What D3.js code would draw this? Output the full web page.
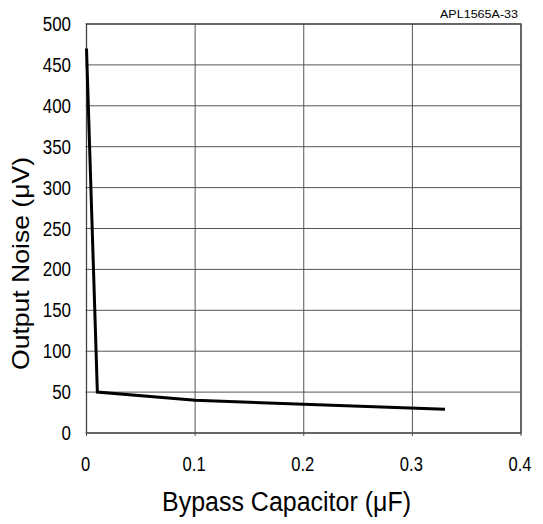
<!DOCTYPE html>
<html>
<head>
<meta charset="utf-8">
<script src="https://cdn.jsdelivr.net/npm/d3@7"></script>
<style>
  body { margin: 0; background: #fff; }
  text { font-family: "Liberation Sans", Arial, sans-serif; fill: #000; }
</style>
</head>
<body>
<svg id="chart" width="543" height="524"></svg>
<script>
// curve data
const capValues = [0, 0.01, 0.1, 0.33];
const noiseValues = [470, 50, 40, 29];
const xTicks = [0, 0.1, 0.2, 0.3, 0.4];
const yTicks = [0, 50, 100, 150, 200, 250, 300, 350, 400, 450, 500];

const margin = { top: 24, right: 22, bottom: 91, left: 86.5 };
const width = 543, height = 524;

const svg = d3.select("#chart");

const x = d3.scaleLinear().domain([0, 0.4]).range([margin.left, width - margin.right]);
const y = d3.scaleLinear().domain([0, 500]).range([height - margin.bottom, margin.top]);

// grid
svg.append("g")
  .selectAll("line")
  .data(xTicks)
  .enter().append("line")
  .attr("x1", d => x(d)).attr("x2", d => x(d))
  .attr("y1", y(500)).attr("y2", y(0) + 3)
  .attr("stroke", "#555").attr("stroke-width", 1);

svg.append("g")
  .selectAll("line")
  .data(yTicks)
  .enter().append("line")
  .attr("x1", x(0) - 1).attr("x2", x(0.4))
  .attr("y1", d => y(d)).attr("y2", d => y(d))
  .attr("stroke", "#555").attr("stroke-width", 1);

// frame
svg.append("rect")
  .attr("x", x(0)).attr("y", y(500))
  .attr("width", x(0.4) - x(0)).attr("height", y(0) - y(500))
  .attr("fill", "none").attr("stroke", "#444").attr("stroke-width", 1.3);

// tick labels (glyphs a bit condensed like the original)
svg.append("g")
  .selectAll("g")
  .data(yTicks)
  .enter().append("g")
  .attr("transform", d => `translate(71,${y(d)}) scale(0.87,1)`)
  .append("text")
  .attr("dy", "0.36em")
  .attr("text-anchor", "end")
  .style("font-size", "19.5px")
  .text(d => d);

svg.append("g")
  .selectAll("g")
  .data(xTicks)
  .enter().append("g")
  .attr("transform", d => `translate(${x(d) - 1},470.5) scale(0.85,1)`)
  .append("text")
  .attr("text-anchor", "middle")
  .style("font-size", "19.5px")
  .text(d => d);

// curve
const line = d3.line().x(d => x(d[0])).y(d => y(d[1]));
svg.append("path")
  .datum(d3.zip(capValues, noiseValues))
  .attr("d", line)
  .attr("fill", "none")
  .attr("stroke", "#000")
  .attr("stroke-width", 3)
  .attr("stroke-linejoin", "miter");

// titles
svg.append("text")
  .attr("x", 518).attr("y", 18.3)
  .attr("text-anchor", "end")
  .attr("textLength", 78)
  .attr("lengthAdjust", "spacingAndGlyphs")
  .style("font-size", "11.6px")
  .text("APL1565A-33");

svg.append("text")
  .attr("transform", "translate(29,263.5) rotate(-90)")
  .attr("x", -106.5)
  .attr("textLength", 213)
  .attr("lengthAdjust", "spacingAndGlyphs")
  .style("font-size", "23.7px")
  .text("Output Noise (\u03bcV)");

svg.append("text")
  .attr("x", 162).attr("y", 511)
  .attr("textLength", 249)
  .attr("lengthAdjust", "spacingAndGlyphs")
  .style("font-size", "27px")
  .text("Bypass Capacitor (\u03bcF)");
</script>
</body>
</html>
